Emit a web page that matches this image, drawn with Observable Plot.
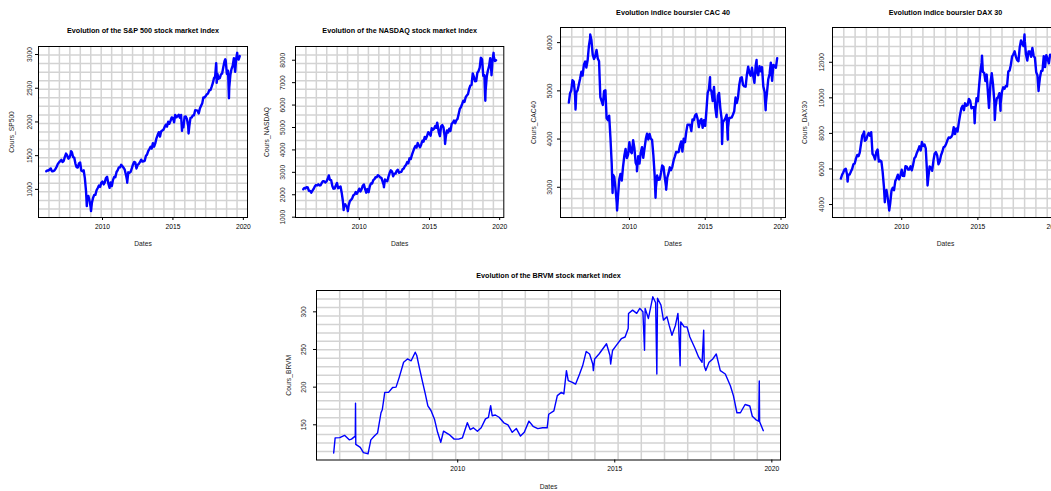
<!DOCTYPE html>
<html><head><meta charset="utf-8">
<script src="https://cdn.jsdelivr.net/npm/d3@7"></script>
<script src="https://cdn.jsdelivr.net/npm/@observablehq/plot@0.6"></script>
<style>
html,body{margin:0;padding:0;background:#fff;overflow:hidden;}
#page{position:relative;width:1051px;height:491px;overflow:hidden;background:#fff;}
.panel{position:absolute;}
.panel svg{max-width:none !important;}
</style></head><body><div id="page"></div>
<script>
// Month-end closes, Jan 2006 .. Sep 2019
const spClose = [
1280,1281,1295,1311,1270,1270,1277,1304,1336,1378,1401,1418,
1438,1407,1421,1482,1531,1503,1455,1474,1527,1549,1481,1468,
1379,1331,1323,1386,1400,1280,1267,1283,1166,969,896,903,
826,735,798,873,919,919,987,1021,1057,1036,1096,1115,
1074,1104,1169,1187,1089,1031,1102,1049,1141,1183,1181,1258,
1286,1327,1326,1364,1345,1321,1292,1219,1131,1253,1247,1258,
1312,1366,1408,1398,1310,1362,1379,1407,1441,1412,1416,1426,
1498,1515,1569,1598,1631,1606,1686,1633,1682,1757,1806,1848,
1783,1859,1872,1884,1924,1960,1931,2003,1972,2018,2068,2059,
1995,2105,2068,2086,2107,2063,2104,1972,1920,2079,2080,2044,
1940,1932,2060,2065,2097,2099,2174,2171,2168,2126,2199,2239,
2279,2364,2363,2384,2412,2423,2470,2472,2519,2575,2648,2674,
2824,2714,2641,2648,2705,2718,2816,2902,2914,2712,2760,2507,
2704,2784,2834,2946,2752,2942,2980,2926,2977];
const spExtra = [["2006-01-03",1268],["2007-10-09",1565],["2008-11-20",752],["2009-03-09",677],["2010-07-02",1022],["2011-10-03",1099],["2015-08-25",1868],["2016-02-11",1829],["2018-01-26",2873],["2018-02-08",2581],["2018-09-20",2930],["2018-12-24",2351],["2019-06-03",2744],["2019-07-26",3025]];

const nasdaqClose = [
2306,2281,2340,2323,2179,2172,2091,2184,2258,2367,2432,2415,
2464,2416,2422,2525,2605,2603,2546,2596,2701,2859,2661,2652,
2390,2271,2279,2413,2523,2293,2326,2368,2092,1721,1536,1577,
1476,1378,1529,1717,1774,1835,1979,2009,2122,2045,2145,2269,
2147,2238,2398,2461,2257,2109,2255,2114,2368,2507,2498,2653,
2700,2782,2781,2874,2835,2774,2756,2579,2415,2684,2620,2605,
2814,2967,3092,3046,2827,2935,2940,3067,3116,2977,3010,3020,
3142,3160,3268,3329,3456,3403,3626,3590,3771,3920,4060,4177,
4104,4308,4199,4115,4243,4408,4370,4580,4493,4631,4792,4736,
4635,4964,4901,4941,5070,4987,5128,4777,4620,5054,5109,5007,
4614,4558,4870,4775,4948,4843,5162,5213,5312,5189,5324,5383,
5615,5825,5912,6048,6199,6140,6348,6429,6496,6728,6874,6903,
7411,7273,7063,7066,7442,7510,7672,8110,8046,7306,7331,6635,
7282,7533,7729,8095,7453,8006,8175,7963,7999];
const nasdaqExtra = [["2006-01-03",2243],["2007-10-31",2859],["2008-11-20",1316],["2009-03-09",1268],["2010-07-02",2092],["2011-10-03",2335],["2015-07-20",5218],["2016-02-11",4266],["2018-08-29",8109],["2018-12-24",6193],["2019-06-03",7333],["2019-07-26",8330]];

const cacClose = [
4948,5001,5220,5191,4930,4965,5009,5132,5250,5399,5316,5542,
5608,5484,5634,5925,6104,6054,5751,5662,5716,5848,5671,5614,
4870,4790,4707,4997,5014,4434,4392,4485,4032,3487,3262,3218,
2963,2679,2807,3159,3278,3140,3426,3653,3795,3607,3680,3936,
3739,3708,3974,3817,3508,3443,3643,3491,3715,3833,3610,3805,
4005,4111,3989,4107,4007,3982,3672,3256,2982,3243,3155,3160,
3298,3452,3424,3213,3017,3197,3292,3414,3355,3429,3557,3641,
3733,3723,3731,3857,3949,3739,4008,3934,4143,4299,4296,4296,
4165,4408,4391,4487,4519,4423,4247,4381,4416,4233,4390,4273,
4605,4951,5034,5046,4987,4790,5082,4653,4455,4898,4958,4637,
4417,4354,4385,4429,4506,4237,4440,4438,4448,4509,4579,4862,
4749,4858,5123,5267,5284,5121,5094,5086,5330,5503,5373,5313,
5482,5320,5167,5521,5398,5324,5511,5407,5493,5093,4983,4731,
4993,5241,5351,5586,5208,5539,5519,5480,5678];
const cacExtra = [["2006-01-02",4755],["2006-06-13",4610],["2007-06-01",6168],["2008-11-21",2881],["2009-03-09",2519],["2010-07-01",3332],["2011-09-22",2782],["2012-06-04",2950],["2015-04-27",5283],["2016-02-11",3897],["2016-06-27",3985],["2018-05-22",5640],["2018-12-27",4599]];

const daxClose = [
5674,5797,5970,6009,5692,5683,5682,5859,6004,6269,6309,6597,
6789,6716,6917,7409,7883,8007,7584,7638,7862,8020,7871,8067,
6852,6748,6535,6949,7097,6418,6479,6422,5831,4988,4669,4810,
4338,3843,4085,4770,4941,4809,5332,5465,5675,5415,5625,5957,
5608,5598,6154,6136,5964,5966,6148,5925,6229,6601,6688,6914,
7077,7272,7041,7514,7294,7376,7159,5785,5502,6141,6089,5898,
6458,6856,6947,6761,6264,6416,6772,6970,7216,7260,7406,7612,
7776,7742,7795,7914,8349,7959,8276,8104,8594,9033,9406,9552,
9306,9692,9556,9603,9943,9833,9407,9470,9474,9327,9980,9806,
10694,11402,11966,11454,11414,10945,11309,10259,9660,10850,11382,10743,
9798,9495,9966,10039,10263,9680,10337,10593,10511,10665,10640,11481,
11535,11834,12313,12438,12615,12325,12118,12056,12829,13230,13024,12918,
13189,12436,12097,12612,12605,12306,12806,12364,12247,11447,11257,10559,
11173,11516,11526,12344,11727,12399,12189,11939,12428];
const daxExtra = [["2006-01-02",5460],["2006-06-13",5292],["2007-07-13",8105],["2008-11-21",4127],["2009-03-06",3666],["2011-09-12",5072],["2014-10-16",8572],["2015-04-10",12375],["2015-09-24",9428],["2016-02-11",8753],["2016-06-27",9269],["2018-01-23",13560],["2018-12-27",10382]];

const brvm = [["2006-01-20",112.5],["2006-02-06",132.6],["2006-04-01",133],["2006-05-26",136],["2006-07-20",130],["2006-08-15",131],["2006-09-28",135],["2006-10-01",178.6],["2006-10-04",124],["2006-11-25",120],["2007-01-01",113],["2007-02-24",111.6],["2007-03-28",130],["2007-05-08",135],["2007-06-14",139],["2007-07-24",166],["2007-08-08",170],["2007-09-06",193],["2007-10-20",193],["2007-12-06",199.5],["2008-01-15",200],["2008-02-21",213],["2008-04-12",233],["2008-05-27",237.5],["2008-07-09",235],["2008-08-25",246.4],["2008-09-12",242],["2008-10-10",227],["2008-11-18",207],["2008-12-20",191],["2009-01-19",175],["2009-02-24",169],["2009-04-05",157.8],["2009-05-12",140],["2009-06-18",126.8],["2009-07-20",141.5],["2009-09-24",137],["2009-11-21",131],["2010-01-12",131],["2010-02-24",132.6],["2010-04-23",152.7],["2010-05-26",143.7],["2010-07-01",146],["2010-08-18",141.5],["2010-10-01",146],["2010-11-20",157.8],["2010-12-24",160],["2011-01-19",175.5],["2011-02-06",162],["2011-03-14",163],["2011-04-27",160],["2011-06-21",152.7],["2011-08-08",150],["2011-09-27",140],["2011-11-14",145],["2012-01-01",135],["2012-02-14",140],["2012-04-08",154.9],["2012-05-26",148],["2012-07-20",145],["2012-09-13",146],["2012-11-06",146],["2012-11-24",164],["2013-01-23",168.6],["2013-03-04",188.7],["2013-04-20",193],["2013-05-19",191],["2013-06-18",221.9],["2013-07-09",208.6],["2013-08-26",206.4],["2013-10-02",204],["2013-11-18",217.5],["2013-12-24",228.6],["2014-02-03",247.4],["2014-03-14",244],["2014-04-20",230.7],["2014-04-27",221.9],["2014-05-12",237.5],["2014-07-02",244],["2014-09-27",257.6],["2014-11-06",242],["2014-11-14",230.7],["2014-12-06",248.7],["2015-01-19",255.4],["2015-03-18",264.3],["2015-05-01",266.6],["2015-06-06",277.8],["2015-06-10",297.9],["2015-07-27",302.3],["2015-09-13",298],["2015-10-19",304.6],["2015-11-24",300],["2015-12-13",249],["2015-12-20",304.6],["2016-01-27",291.2],["2016-03-18",320],["2016-04-20",312],["2016-05-04",217.5],["2016-05-12",318],["2016-06-21",309],["2016-07-20",289],["2016-08-30",293.4],["2016-09-24",282.3],["2016-10-27",268.9],["2016-12-06",282],["2017-01-04",298],["2017-01-11",286],["2017-01-30",228.5],["2017-02-06",286.7],["2017-03-18",280],["2017-04-20",280],["2017-05-23",266.6],["2017-07-24",251],["2017-09-02",239.8],["2017-10-12",233],["2017-10-31",275.7],["2017-11-06",228.5],["2017-11-24",222],["2018-01-01",233],["2018-02-14",237.5],["2018-03-26",244],["2018-05-12",222],["2018-07-09",217.5],["2018-09-06",201.8],["2018-10-12",188.4],["2018-11-21",166],["2019-01-01",166],["2019-02-24",177],["2019-04-20",175],["2019-05-19",161.4],["2019-06-28",157],["2019-08-01",154.7],["2019-08-08",208.2],["2019-08-12",154],["2019-09-24",142.2]];

const xTickYears = [2010, 2015, 2020];
const spTicks = [1000,1500,2000,2500,3000];
const nasdaqTicks = [1000,2000,3000,4000,5000,6000,7000,8000];
const cacTicks = [3000,4000,5000,6000];
const daxTicks = [4000,6000,8000,10000,12000];
const brvmTicks = [150,200,250,300];

function buildMonthly(closes, extras) {
  const rows = closes.map((v, i) => ({date: new Date(Date.UTC(2006, i + 1, 0)), value: v}));
  extras.forEach(([d, v]) => rows.push({date: new Date(d + "T00:00:00Z"), value: v}));
  return rows.sort((a, b) => a.date - b.date);
}
function buildPairs(pairs) {
  return pairs.map(([d, v]) => ({date: new Date(d + "T00:00:00Z"), value: v})).sort((a, b) => a.date - b.date);
}

const FONT = "'Liberation Sans', Arial, Helvetica, sans-serif";
const panels = [
  {left:0, top:0, width:260, height:245, m:[46,13,28,38], title:"Evolution of the S&P 500 stock market index", ylab:"Cours_SP500", ticks:spTicks, data:buildMonthly(spClose, spExtra), tdx:-9, ldx:-26.5, titleY:30, datesY:243, sw:2.4},
  {left:260, top:0, width:260, height:245, m:[46,16.7,28,35], title:"Evolution of the NASDAQ stock market index", ylab:"Cours_NASDAQ", ticks:nasdaqTicks, data:buildMonthly(nasdaqClose, nasdaqExtra), tdx:-13, ldx:-28.3, titleY:30, datesY:243, sw:2.4},
  {left:520, top:0, width:270, height:245, m:[27,5,28,40], title:"Evolution indice boursier CAC 40", ylab:"Cours_CAC40", ticks:cacTicks, data:buildMonthly(cacClose, cacExtra), tdx:-11, ldx:-26.7, titleY:11.7, datesY:243.5, sw:2.4},
  {left:790, top:0, width:280, height:245, m:[27,12,28,42], title:"Evolution indice boursier DAX 30", ylab:"Cours_DAX30", ticks:daxTicks, data:buildMonthly(daxClose, daxExtra), tdx:-10.6, ldx:-27.3, titleY:11.7, datesY:243.5, sw:2.4},
  {left:270, top:260, width:520, height:231, m:[30,10,31.5,46], title:"Evolution of the BRVM stock market index", ylab:"Cours_BRVM", ticks:brvmTicks, data:buildPairs(brvm), tdx:-12.7, ldx:-27.7, titleY:15, datesY:226.5, sw:1.4}
];

const page = document.getElementById("page");
for (const p of panels) {
  const [dx0, dx1] = d3.extent(p.data, d => d.date);
  const padX = (dx1 - dx0) * 0.04;
  const xDomain = [new Date(+dx0 - padX), new Date(+dx1 + padX)];
  const [vy0, vy1] = d3.extent(p.data, d => d.value);
  const padY = (vy1 - vy0) * 0.04;
  const yDomain = [vy0 - padY, vy1 + padY];
  const gridX = d3.range(1, 20).map(i => new Date(+xDomain[0] + i * (xDomain[1] - xDomain[0]) / 20));
  const gridY = d3.range(1, 20).map(i => yDomain[0] + i * (yDomain[1] - yDomain[0]) / 20);
  const xTicks = xTickYears.map(y => new Date(Date.UTC(y, 0, 1)));
  const frameTop = p.m[0], frameBottom = p.height - p.m[2];
  const chart = Plot.plot({
    width: p.width, height: p.height,
    marginTop: p.m[0], marginRight: p.m[1], marginBottom: p.m[2], marginLeft: p.m[3],
    style: {fontFamily: FONT, fontSize: "6.7px", color: "#000", background: "transparent", overflow: "visible", maxWidth: "none"},
    x: {type: "utc", domain: xDomain},
    y: {domain: yDomain},
    marks: [
      Plot.ruleX(gridX, {stroke: "#d3d3d3", strokeWidth: 1.5}),
      Plot.ruleY(gridY, {stroke: "#d3d3d3", strokeWidth: 1.5}),
      Plot.line(p.data, {x: "date", y: "value", stroke: "blue", strokeWidth: p.sw}),
      Plot.frame({stroke: "#000", strokeWidth: 1}),
      Plot.axisX({ticks: xTicks, tickFormat: d3.utcFormat("%Y"), tickSize: 3, tickPadding: 3.5, label: null, stroke: "#000"}),
      Plot.axisY({ticks: p.ticks, tickSize: 3, tickFormat: () => "", label: null, stroke: "#000"}),
      Plot.text(p.ticks, {y: d => d, text: d => String(d), frameAnchor: "left", dx: p.tdx, rotate: -90, textAnchor: "middle", lineAnchor: "middle", fill: "#222", fontSize: 6.7}),
      Plot.text([p.title], {text: d => d, frameAnchor: "top", dy: p.titleY - frameTop, textAnchor: "middle", lineAnchor: "middle", fontWeight: "bold", fontSize: 7.2, fill: "#000"}),
      Plot.text([p.ylab], {text: d => d, frameAnchor: "left", dx: p.ldx, rotate: -90, textAnchor: "middle", lineAnchor: "middle", fontSize: 6.7, fill: "#222"}),
      Plot.text(["Dates"], {text: d => d, frameAnchor: "bottom", dy: p.datesY - frameBottom, textAnchor: "middle", lineAnchor: "middle", fontSize: 6.7, fill: "#222"})
    ]
  });
  chart.style.maxWidth = "none";
  const wrap = document.createElement("div");
  wrap.className = "panel";
  wrap.style.left = p.left + "px";
  wrap.style.top = p.top + "px";
  wrap.style.width = p.width + "px";
  wrap.style.height = p.height + "px";
  wrap.appendChild(chart);
  page.appendChild(wrap);
}
</script></body></html>
